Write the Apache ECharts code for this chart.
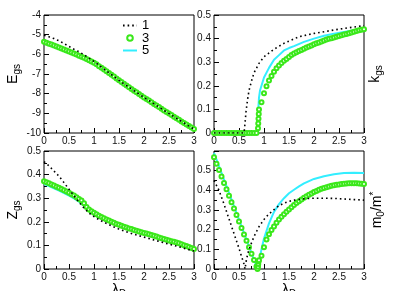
<!DOCTYPE html>
<html><head><meta charset="utf-8">
<script src="https://cdn.jsdelivr.net/npm/echarts@6/dist/echarts.min.js"></script>
<style>html,body{margin:0;padding:0;background:#fff}#c{width:411px;height:291px}</style>
</head><body><div id="c"></div>
<script>
// ---- x grids (lambda_D) ----
const lam05 = [0,0.05,0.1,0.15,0.2,0.25,0.3,0.35,0.4,0.45,0.5,0.55,0.6,0.65,0.7,0.75,0.8,0.85,0.9,0.95,1,1.05,1.1,1.15,1.2,1.25,1.3,1.35,1.4,1.45,1.5,1.55,1.6,1.65,1.7,1.75,1.8,1.85,1.9,1.95,2,2.05,2.1,2.15,2.2,2.25,2.3,2.35,2.4,2.45,2.5,2.55,2.6,2.65,2.7,2.75,2.8,2.85,2.9,2.95,3];
const lam10 = [0,0.1,0.2,0.3,0.4,0.5,0.6,0.7,0.8,0.9,1,1.1,1.2,1.3,1.4,1.5,1.6,1.7,1.8,1.9,2,2.1,2.2,2.3,2.4,2.5,2.6,2.7,2.8,2.9,3];

// ---- E_gs panel ----
const E_n3 = [-5.36,-5.41,-5.46,-5.5,-5.55,-5.6,-5.65,-5.7,-5.75,-5.8,-5.86,-5.91,-5.96,-6.01,-6.07,-6.12,-6.18,-6.24,-6.3,-6.36,-6.43,-6.51,-6.6,-6.68,-6.77,-6.86,-6.95,-7.04,-7.13,-7.23,-7.32,-7.41,-7.5,-7.59,-7.67,-7.76,-7.85,-7.93,-8.02,-8.1,-8.19,-8.27,-8.35,-8.44,-8.52,-8.6,-8.68,-8.77,-8.85,-8.93,-9.01,-9.09,-9.17,-9.25,-9.33,-9.41,-9.49,-9.57,-9.65,-9.72,-9.8];
const E_n5 = [-5.44,-5.54,-5.63,-5.73,-5.83,-5.94,-6.04,-6.15,-6.26,-6.38,-6.51,-6.68,-6.85,-7.03,-7.21,-7.4,-7.58,-7.75,-7.93,-8.1,-8.27,-8.43,-8.6,-8.76,-8.93,-9.09,-9.25,-9.41,-9.57,-9.73,-9.88];
const E_n1 = [-5.03,-5.11,-5.2,-5.31,-5.45,-5.6,-5.74,-5.87,-6.02,-6.19,-6.36,-6.55,-6.75,-6.94,-7.13,-7.32,-7.5,-7.67,-7.85,-8.02,-8.19,-8.35,-8.52,-8.68,-8.85,-9.01,-9.17,-9.33,-9.49,-9.65,-9.8];

// ---- k_gs panel ----
const K_lam1 = [0,0.3,0.55,0.6,0.62,0.64,0.67,0.7,0.75,0.8,0.9,1,1.2,1.4,1.7,2,2.5,3];
const K_n1   = [0,0,0,0,0.04,0.09,0.14,0.18,0.22,0.255,0.295,0.323,0.355,0.38,0.408,0.422,0.44,0.455];
const K_lam5 = [0,0.5,0.86,0.87,0.88,0.9,0.92,1,1.1,1.2,1.3,1.4,1.5,1.6,1.8,2,2.2,2.4,2.6,2.8,3];
const K_n5   = [0,0,0,0.04,0.08,0.15,0.18,0.235,0.276,0.31,0.33,0.35,0.36,0.368,0.386,0.4,0.412,0.421,0.428,0.435,0.44];
const K_lam3 = [0,0.05,0.1,0.15,0.2,0.25,0.3,0.35,0.4,0.45,0.5,0.55,0.6,0.65,0.7,0.75,0.8,0.85,0.88,0.885,0.89,0.895,0.9,0.95,1,1.05,1.1,1.15,1.2,1.25,1.3,1.35,1.4,1.45,1.5,1.55,1.6,1.65,1.7,1.75,1.8,1.85,1.9,1.95,2,2.05,2.1,2.15,2.2,2.25,2.3,2.35,2.4,2.45,2.5,2.55,2.6,2.65,2.7,2.75,2.8,2.85,2.9,2.95,3];
const K_n3   = [0,0,0,0,0,0,0,0,0,0,0,0,0,0,0,0,0,0,0.02,0.04,0.06,0.08,0.1,0.13,0.168,0.198,0.222,0.242,0.26,0.274,0.286,0.297,0.306,0.314,0.322,0.33,0.337,0.342,0.347,0.352,0.357,0.362,0.366,0.371,0.376,0.38,0.384,0.388,0.392,0.396,0.399,0.402,0.405,0.408,0.411,0.414,0.417,0.42,0.423,0.426,0.429,0.432,0.435,0.437,0.44];

// ---- Z_gs panel ----
const Z_n3 = [0.372,0.368,0.363,0.358,0.354,0.349,0.344,0.339,0.334,0.328,0.323,0.317,0.311,0.304,0.297,0.29,0.279,0.263,0.252,0.245,0.238,0.232,0.226,0.22,0.215,0.21,0.205,0.2,0.196,0.191,0.187,0.183,0.179,0.176,0.172,0.169,0.165,0.162,0.159,0.156,0.153,0.15,0.147,0.144,0.141,0.138,0.133,0.13,0.127,0.124,0.121,0.118,0.115,0.112,0.109,0.105,0.101,0.097,0.093,0.089,0.085];
const Z_n5 = [0.36,0.351,0.342,0.332,0.322,0.311,0.299,0.285,0.268,0.245,0.23,0.219,0.209,0.2,0.191,0.182,0.175,0.168,0.161,0.155,0.149,0.143,0.137,0.131,0.125,0.119,0.112,0.105,0.098,0.09,0.082];
const Z_n1 = [0.455,0.437,0.415,0.393,0.366,0.338,0.31,0.283,0.258,0.237,0.222,0.209,0.198,0.188,0.178,0.169,0.161,0.154,0.147,0.141,0.135,0.129,0.123,0.117,0.111,0.105,0.1,0.094,0.088,0.082,0.076];

// ---- m0/m* panel ----
const M_lam1 = [0,0.1,0.2,0.3,0.4,0.5,0.55,0.6,0.62,0.65,0.7,0.8,0.9,1,1.1,1.2,1.3,1.4,1.5,1.6,1.8,2,2.2,2.4,2.6,2.8,3];
const M_n1   = [0.45,0.4,0.33,0.255,0.18,0.105,0.065,0.025,0,0.05,0.1,0.165,0.215,0.252,0.28,0.302,0.322,0.335,0.344,0.35,0.357,0.36,0.36,0.359,0.356,0.353,0.35];
const M_lam5 = [0,0.3,0.6,0.87,0.9,0.95,1,1.1,1.2,1.3,1.4,1.5,1.6,1.7,1.8,1.9,2,2.2,2.4,2.6,2.8,3];
const M_n5   = [0.59,0.387,0.183,0,0.04,0.1,0.155,0.232,0.29,0.33,0.36,0.385,0.403,0.42,0.435,0.447,0.458,0.472,0.482,0.488,0.489,0.488];
const M_lam3 = [0,0.05,0.1,0.15,0.2,0.25,0.3,0.35,0.4,0.45,0.5,0.55,0.6,0.65,0.7,0.75,0.8,0.85,0.87,0.88,0.885,0.89,0.9,0.95,1,1.05,1.1,1.15,1.2,1.25,1.3,1.35,1.4,1.45,1.5,1.55,1.6,1.65,1.7,1.75,1.8,1.85,1.9,1.95,2,2.05,2.1,2.15,2.2,2.25,2.3,2.35,2.4,2.45,2.5,2.55,2.6,2.65,2.7,2.75,2.8,2.85,2.9,2.95,3];
const M_n3   = [0.568,0.535,0.503,0.47,0.437,0.405,0.372,0.339,0.307,0.274,0.242,0.209,0.176,0.144,0.111,0.078,0.046,0.013,0,0.012,0.025,0.038,0.045,0.068,0.11,0.15,0.177,0.198,0.216,0.235,0.252,0.266,0.279,0.291,0.303,0.314,0.325,0.335,0.344,0.353,0.362,0.37,0.377,0.384,0.391,0.397,0.403,0.408,0.412,0.416,0.42,0.423,0.426,0.428,0.43,0.432,0.434,0.435,0.436,0.436,0.436,0.436,0.435,0.434,0.432];

// ---- legend entries ----
const legendNames = ['1', '3', '5'];

// ---- styling ----
const FONT = 'Liberation Sans, Arial, sans-serif';
const GREEN = '#3ae81a', CYAN = '#33eeff', BLACK = '#000';
const pairs = (xs, ys) => xs.map((x, i) => [x, ys[i]]);

const nameStyle = {
  fontSize: 14, fontFamily: FONT, color: '#000',
  rich: {
    m: {fontSize: 14, fontFamily: FONT, color: '#000'},
    s: {fontSize: 10, fontFamily: FONT, color: '#000', padding: [7, 0, 0, 0]},
    p: {fontSize: 10, fontFamily: FONT, color: '#000', padding: [0, 0, 7, 0]}
  }
};
const labelStyle = {fontSize: 10, color: '#111', fontFamily: FONT};

const gridBoxes = [
  {left: 44, top: 15, width: 150, height: 118},
  {left: 214, top: 15, width: 150, height: 118},
  {left: 44, top: 151, width: 150, height: 118},
  {left: 214, top: 151, width: 150, height: 118}
];
const grids = gridBoxes.map(g => Object.assign({}, g, {
  show: true, borderColor: '#000', borderWidth: 1, backgroundColor: 'transparent',
  containLabel: false, outerBoundsMode: 'none'
}));

function xAx(i, withName) {
  return {
    gridIndex: i, type: 'value', min: 0, max: 3, interval: 0.5,
    axisLine: {show: false},
    axisTick: {show: true, inside: true, length: 5, lineStyle: {color: '#000', width: 1}},
    minorTick: {show: true, splitNumber: 2, length: 3, lineStyle: {color: '#000', width: 1}},
    splitLine: {show: false}, minorSplitLine: {show: false},
    axisLabel: Object.assign({margin: 3}, labelStyle),
    name: withName ? '{m|λ}{s|D}' : '', nameLocation: 'middle', nameGap: 13,
    nameTextStyle: nameStyle
  };
}
function yAx(i, min, max, interval, name, showMax) {
  return {
    gridIndex: i, type: 'value', min: min, max: max, interval: interval,
    axisLine: {show: false},
    axisTick: {show: true, inside: true, length: 5, lineStyle: {color: '#000', width: 1}},
    minorTick: {show: true, splitNumber: 2, length: 3, lineStyle: {color: '#000', width: 1}},
    splitLine: {show: false}, minorSplitLine: {show: false},
    axisLabel: Object.assign({margin: 3, showMaxLabel: showMax, showMinLabel: true}, labelStyle),
    name: name, nameLocation: 'middle', nameGap: 22, nameRotate: 90,
    nameTextStyle: nameStyle
  };
}
function yName(i, min, max, name, gap) {
  return {
    gridIndex: i, type: 'value', position: 'right', min: min, max: max,
    axisLine: {show: false}, axisTick: {show: false}, axisLabel: {show: false},
    splitLine: {show: false},
    name: name, nameLocation: 'middle', nameGap: gap, nameRotate: 90,
    nameTextStyle: nameStyle
  };
}

function dotted(i, data) {
  return {name: legendNames[0], type: 'line', xAxisIndex: i, yAxisIndex: i, data: data,
    symbol: 'none', showSymbol: false, z: 4,
    lineStyle: {color: BLACK, width: 1.6, type: [1.6, 3]}, itemStyle: {color: BLACK}};
}
function circles(i, data) {
  return {name: legendNames[1], type: 'line', xAxisIndex: i, yAxisIndex: i, data: data,
    symbol: 'emptyCircle', showSymbol: true, symbolSize: 4, z: 3,
    lineStyle: {opacity: 0, width: 0},
    itemStyle: {color: GREEN, borderColor: GREEN, borderWidth: 0.8}};
}
function solid(i, data) {
  return {name: legendNames[2], type: 'line', xAxisIndex: i, yAxisIndex: i, data: data,
    symbol: 'none', showSymbol: false, z: 2,
    lineStyle: {color: CYAN, width: 2}, itemStyle: {color: CYAN}};
}

const option = {
  animation: false,
  backgroundColor: '#fff',
  grid: grids,
  legend: {
    left: 122, top: 19, orient: 'vertical', selectedMode: false, padding: 0,
    itemWidth: 14, itemHeight: 7, itemGap: -0.5,
    textStyle: {fontSize: 13, fontFamily: FONT, color: '#000'},
    data: [
      {name: legendNames[0], itemStyle: {opacity: 0}},
      {name: legendNames[1], lineStyle: {opacity: 0}},
      {name: legendNames[2], itemStyle: {opacity: 0}}
    ]
  },
  xAxis: [xAx(0, false), xAx(1, false), xAx(2, true), xAx(3, true)],
  yAxis: [
    yAx(0, -10, -4, 1, '{m|E}{s|gs}', true),
    yAx(1, 0, 0.5, 0.1, '', true),
    yAx(2, 0, 0.5, 0.1, '{m|Z}{s|gs}', true),
    yAx(3, 0, 0.6, 0.1, '', false),
    yName(1, 0, 0.5, '{m|k}{s|gs}', 3),
    yName(3, 0, 0.6, '{m|m}{s|0}{m|/m}{p|*}', 5)
  ],
  series: [
    solid(0, pairs(lam10, E_n5)), circles(0, pairs(lam05, E_n3)), dotted(0, pairs(lam10, E_n1)),
    solid(1, pairs(K_lam5, K_n5)), circles(1, pairs(K_lam3, K_n3)), dotted(1, pairs(K_lam1, K_n1)),
    solid(2, pairs(lam10, Z_n5)), circles(2, pairs(lam05, Z_n3)), dotted(2, pairs(lam10, Z_n1)),
    solid(3, pairs(M_lam5, M_n5)), circles(3, pairs(M_lam3, M_n3)), dotted(3, pairs(M_lam1, M_n1))
  ]
};
const chart = echarts.init(document.getElementById('c'), null, {renderer: 'canvas'});
chart.setOption(option);
</script>
</body></html>
